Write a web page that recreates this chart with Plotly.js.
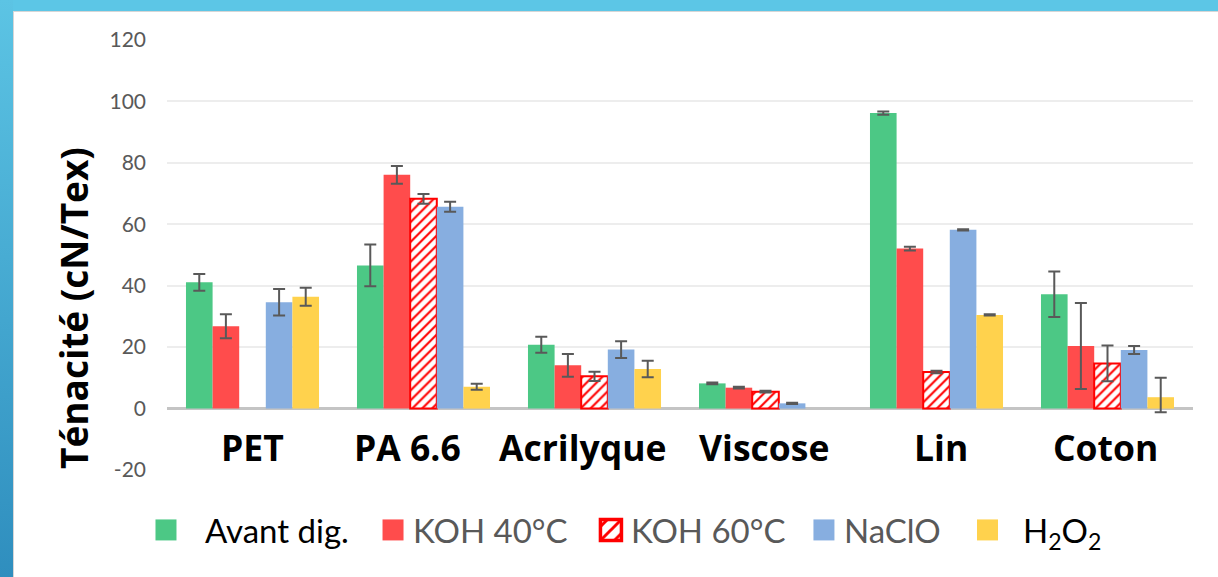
<!DOCTYPE html>
<html><head><meta charset="utf-8">
<script src="https://cdn.plot.ly/plotly-3.0.1.min.js"></script>
<style>
html,body{margin:0;padding:0;width:1218px;height:577px;overflow:hidden;background:#5cc6e6;}
#left{position:absolute;left:0;top:0;width:13px;height:577px;background:linear-gradient(to bottom,#5cc4e4,#2f8ebe);}
#frame{position:absolute;left:13px;top:11px;width:1205px;height:566px;background:#fff;border-top:1px solid #d6d6d6;border-left:1px solid #d6d6d6;box-sizing:border-box;}
#chart{position:absolute;left:-1px;top:-1px;width:1205px;height:566px;}
</style></head>
<body>
<div id="left"></div>
<div id="frame"><div id="chart"></div></div>
<script>
// ---- data ----
const categories = ["PET", "PA 6.6", "Acrilyque", "Viscose", "Lin", "Coton"];
const seriesNames = ["Avant dig.", "KOH 40°C", "KOH 60°C", "NaClO", "H<sub>2</sub>O<sub>2</sub>"];
const avantDig   = [41.1, 46.6, 20.8, 8.2, 96.2, 37.2];
const avantErr   = [2.7, 6.8, 2.6, 0.3, 0.5, 7.4];
const koh40      = [26.8, 76.1, 14.1, 6.8, 52.1, 20.4];
const koh40Err   = [3.9, 2.9, 3.7, 0.3, 0.6, 14.0];
const koh60      = [null, 68.3, 10.5, 5.5, 11.9, 14.7];
const koh60Err   = [0, 1.6, 1.5, 0.3, 0.4, 5.8];
const naclo      = [34.6, 65.7, 19.2, 1.7, 58.2, 19.1];
const nacloErr   = [4.3, 1.6, 2.7, 0.2, 0.2, 1.3];
const h2o2       = [36.4, 7.1, 12.9, null, 30.5, 3.7];
const h2o2Err    = [2.9, 1.0, 2.7, 0, 0.2, 6.3];
const h2o2ErrLow = [2.9, 1.0, 2.7, 0, 0.2, 4.9];
const yTicks     = [-20, 0, 20, 40, 60, 80, 100, 120];

// ---- styles ----
const colors = ["#4cc885", "#ff4c4c", "#ff0000", "#87aee0", "#ffd24d"];
const textColors = ["#000000", "#595959", "#595959", "#595959", "#000000"];
const legendX = [-0.039, 0.2008, 0.4132, 0.6208, 0.7651];
const legendItemWidth = [68, 30, 30, 30, 61];
const labelNudge = [0, -16, -12, -2, 4, -2];

const values = [avantDig, koh40, koh60, naclo, h2o2];
const errs = [avantErr, koh40Err, koh60Err, nacloErr, h2o2Err];
const errsLow = [avantErr, koh40Err, koh60Err, nacloErr, h2o2ErrLow];

const traces = values.map((v, i) => {
  const t = {
    type: "bar",
    x: categories,
    y: v,
    name: seriesNames[i],
    legend: i === 0 ? "legend" : "legend" + (i + 1),
    marker: { color: colors[i], line: { width: 0 } },
    error_y: { type: "data", symmetric: false, array: errs[i], arrayminus: errsLow[i], visible: true, color: "#595959", thickness: 2, width: 6 },
    hoverinfo: "skip"
  };
  if (i === 2) {
    t.marker = {
      color: "#ffffff",
      line: { color: "#ff0000", width: 2 },
      pattern: { shape: "/", fgcolor: "#ff0000", bgcolor: "#ffffff", size: 7, solidity: 0.3, fillmode: "replace" }
    };
  }
  return t;
});

const annotations = categories.map((c, i) => ({
  x: c, y: -12.4, xref: "x", yref: "y", text: c, showarrow: false,
  xshift: labelNudge[i],
  font: { family: "Open Sans", size: 35.5, color: "#000000", weight: 700 }
}));
annotations.push({
  xref: "paper", yref: "paper", x: -0.0916, y: 0.3767, xanchor: "center", yanchor: "middle",
  textangle: -90, text: "Ténacité (cN/Tex)", showarrow: false,
  font: { family: "Open Sans", size: 37, color: "#000000", weight: 700 }
});

const layout = {
  width: 1205, height: 566,
  margin: { l: 154, r: 25, t: 29, b: 107 },
  paper_bgcolor: "rgba(0,0,0,0)",
  plot_bgcolor: "rgba(0,0,0,0)",
  barmode: "group",
  bargap: 0.222,
  bargroupgap: 0,
  font: { family: "Lato", color: "#595959" },
  xaxis: { showticklabels: false, showgrid: false, zeroline: false, showline: false, ticks: "" },
  yaxis: {
    range: [-20, 120], tickvals: yTicks, ticktext: yTicks.map(String),
    showgrid: true, gridcolor: "#ededed", gridwidth: 2,
    zeroline: true, zerolinecolor: "#c4c4c4", zerolinewidth: 3,
    showline: false, ticks: "", ticklabelstandoff: 20,
    tickfont: { family: "Lato", size: 21, color: "#595959" }
  },
  annotations: annotations,
  showlegend: true
};
seriesNames.forEach((n, i) => {
  const key = i === 0 ? "legend" : "legend" + (i + 1);
  layout[key] = {
    x: legendX[i], xanchor: "left", y: -0.1395, yanchor: "middle",
    orientation: "h", bgcolor: "rgba(0,0,0,0)", borderwidth: 0,
    itemwidth: legendItemWidth[i],
    font: { family: "Lato", size: 33, color: textColors[i] }
  };
});

Plotly.newPlot("chart", traces, layout, { staticPlot: true }).then(() => {
  document.querySelectorAll("#chart .legendpoints path").forEach(p => {
    const t = p.getAttribute("transform") || "";
    p.setAttribute("transform", (t + " scale(1.75)").trim());
  });
  document.querySelectorAll("#chart [class^='legend'] .scrollbox, #chart .legend .scrollbox").forEach(s => {
    s.removeAttribute("clip-path");
  });
});
</script>
</body></html>
